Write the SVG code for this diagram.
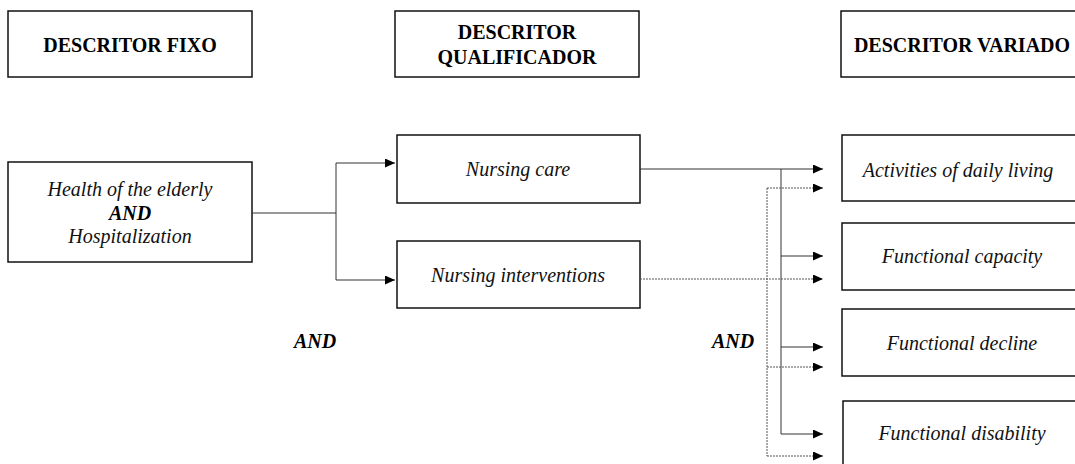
<svg xmlns="http://www.w3.org/2000/svg" width="1075" height="464" viewBox="0 0 1075 464">
<style>
.box{fill:#fff;stroke:#111;stroke-width:1.5}
.hd{font-family:"Liberation Serif",serif;font-weight:bold;font-size:20px;text-anchor:middle;fill:#000}
.it{font-family:"Liberation Serif",serif;font-style:italic;font-size:20px;text-anchor:middle;fill:#111}
.bi{font-family:"Liberation Serif",serif;font-style:italic;font-weight:bold;font-size:20px;text-anchor:middle;fill:#000}
.ln{fill:none;stroke:#333;stroke-width:1}
.dt{fill:none;stroke:#555;stroke-width:1;stroke-dasharray:2 1}
</style>
<defs>
<marker id="ah" markerUnits="userSpaceOnUse" markerWidth="11" markerHeight="9" refX="10" refY="4.5" orient="auto">
<path d="M0,0 L10,4.5 L0,9 Z" fill="#000"/>
</marker>
</defs>
<rect width="1075" height="464" fill="#fff"/>
<g id="h-fixo"><rect class="box" x="8" y="11" width="244" height="66"/><text class="hd" x="130" y="52">DESCRITOR FIXO</text></g>
<g id="h-qual"><rect class="box" x="395" y="11" width="244" height="66"/><text class="hd" x="517" y="39">DESCRITOR</text><text class="hd" x="517" y="64">QUALIFICADOR</text></g>
<g id="h-var"><rect class="box" x="841" y="11" width="250" height="66"/><text class="hd" x="962" y="52">DESCRITOR VARIADO</text></g>
<g id="n-health"><rect class="box" x="8" y="162" width="244" height="100"/><text class="it" x="130" y="196">Health of the elderly</text><text class="bi" x="130" y="220">AND</text><text class="it" x="130" y="243">Hospitalization</text></g>
<g id="n-care"><rect class="box" x="397" y="135" width="243" height="68"/><text class="it" x="518" y="176">Nursing care</text></g>
<g id="n-interv"><rect class="box" x="397" y="241" width="243" height="67"/><text class="it" x="518" y="282">Nursing interventions</text></g>
<g id="n-adl"><rect class="box" x="842" y="135" width="240" height="66"/><text class="it" x="958" y="177">Activities of daily living</text></g>
<g id="n-cap"><rect class="box" x="842" y="223" width="240" height="67"/><text class="it" x="962" y="263">Functional capacity</text></g>
<g id="n-decl"><rect class="box" x="842" y="309" width="240" height="67"/><text class="it" x="962" y="350">Functional decline</text></g>
<g id="n-dis"><rect class="box" x="843" y="401" width="240" height="80"/><text class="it" x="962" y="440">Functional disability</text></g>
<g id="lbl-and1"><text class="bi" x="315" y="348">AND</text></g>
<g id="lbl-and2"><text class="bi" x="733" y="348">AND</text></g>
<g id="connectors">
<path class="ln" d="M252,213 H336"/>
<path class="ln" d="M336,163 V280"/>
<path class="ln" d="M336,163 H395" marker-end="url(#ah)"/>
<path class="ln" d="M336,280 H395" marker-end="url(#ah)"/>
<path class="ln" d="M640,169 H823" marker-end="url(#ah)"/>
<path class="ln" d="M781,169 V434"/>
<path class="ln" d="M781,256 H823" marker-end="url(#ah)"/>
<path class="ln" d="M781,347 H823" marker-end="url(#ah)"/>
<path class="ln" d="M781,434 H823" marker-end="url(#ah)"/>
<path class="dt" d="M640,279 H823" marker-end="url(#ah)"/>
<path class="dt" d="M767,188 V456"/>
<path class="dt" d="M767,188 H823" marker-end="url(#ah)"/>
<path class="dt" d="M767,367 H823" marker-end="url(#ah)"/>
<path class="dt" d="M767,456 H823" marker-end="url(#ah)"/>
</g>
</svg>
